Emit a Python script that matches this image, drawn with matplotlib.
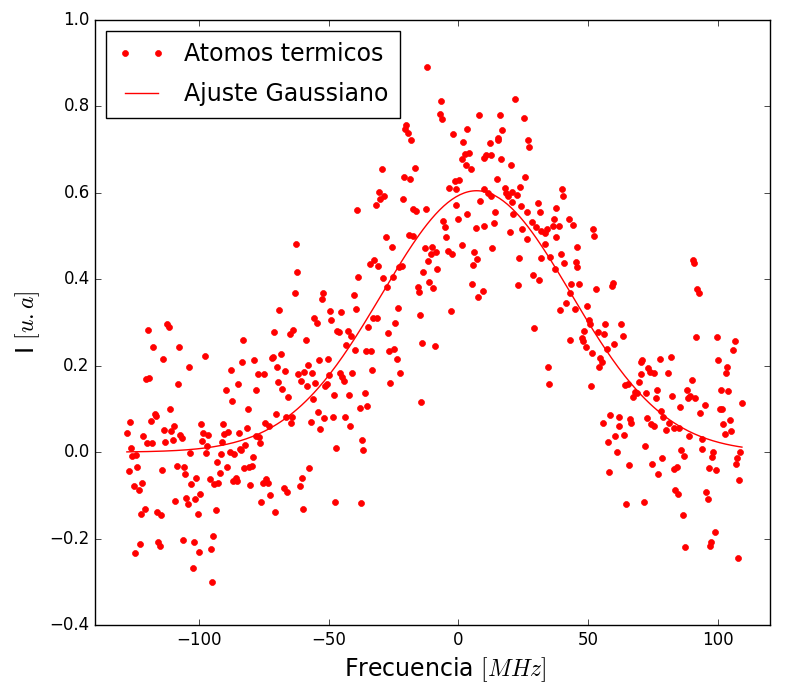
import numpy as np
import matplotlib
matplotlib.use("Agg")
import matplotlib.pyplot as plt

# frecuencia (MHz) e intensidad (u.a.)
freq = [
    -119.7, -112.4, -111.6, -117.8, -107.7, -113.9, -97.7, -103.9, -120.5, -119.3,
    -108.1, -83.0, -71.0, -83.4, -87.6, -78.8, -71.8, -71.4, -69.9, -77.2,
    -74.9, -84.9, -89.6, -78.0, -87.3, -81.1, -111.2, -117.0, -116.6, -118.5,
    -126.6, -127.8, -121.6, -113.5, -110.8, -109.7, -107.3, -106.6, -120.1, -118.1,
    -113.1, -110.0, -99.2, -98.5, -96.5, -98.8, -96.9, -90.7, -90.3, -88.8,
    -84.6, -81.5, -91.1, -82.2, -78.0, -76.8, -76.4, -74.5, -73.0, -70.3,
    -126.3, -84.2, -69.5,
    -125.9, -124.3, -127.0, -123.9, -103.5, -97.3, -91.5, -88.0, -86.5, -83.8,
    -79.2, -93.1, -89.2, -82.6, -80.7, -79.5, -108.5, -105.8, -105.4, -114.3,
    -91.9, -101.2, -103.1, -95.8, -94.2, -92.7, -86.9, -85.7, -85.3, -80.3,
    -75.3, -74.1, -73.4, -122.0, -125.1, -123.2, -72.6, -76.1, -70.7, -99.6,
    -101.5, -105.0, -104.2, -109.3, -120.8, -122.4, -116.2, -114.7, -100.4, -93.4,
    -122.8, -124.7, -115.8, -115.1, -106.2, -101.9, -100.0, -94.6, -95.4, -102.3,
    -95.0,
    -30.5, -30.1, -28.6, -31.7, -21.2, -39.0, -17.4, -16.2, -12.4, -62.5,
    -62.2, -27.8, -18.9, -17.4, -25.5, -12.7, -10.0, -10.4, -8.5, -11.6,
    -32.4, -34.0, -30.9, -22.8, -21.6, -38.6, -29.0, -25.1, -13.5, -8.1,
    -27.4, -11.2, -9.7, -15.4, -15.1, -62.9, -52.1, -52.5, -40.2, -69.1,
    -49.4, -45.2, -39.4, -23.2, -14.7, -55.6, -32.8, -31.3, -49.0,
    -54.4, -64.9, -63.7, -58.7, -46.7, -45.9, -42.5, -41.3, -43.2, -39.8,
    -34.7, -24.3, -27.0, -13.9, -8.9, -26.6, -24.7, -23.6, -22.4, -26.3,
    -35.5, -33.6, -33.2, -68.3, -66.8, -57.9, -53.7, -50.2, -61.8, -59.5,
    -56.4, -60.6, -58.3, -55.2, -51.4, -50.6, -49.8, -45.6, -44.8, -44.0,
    -40.9, -68.0, -65.6, -56.0, -47.9, -42.1, -35.9, -37.8, -35.1, -14.3,
    -66.4, -64.1, -64.5, -54.1, -56.8, -51.7, -48.3, -43.6, -41.7, -53.3,
    -37.1, -47.1, -36.7, -57.5, -60.2, -61.0, -67.2, -66.0, -59.8, -47.5,
    -37.5,
    -6.6, -6.9, -6.2, -20.1, -20.5, -19.3, -18.1, -1.9, 3.5, 1.9,
    2.7, 1.5, 3.1, -29.3, -16.6, -20.8, -18.5, -1.5, 0.4, -3.5,
    -0.8, 22.0, 8.1, 16.2, 25.1, 17.0, 15.4, 15.1, 12.0, 27.0,
    27.4, 4.2, 5.0, 10.8, 10.0, 12.7, 16.6, 20.1, 25.5, 14.7,
    10.0, 11.6, 12.4, 17.8, 18.5, 19.3, 20.8, 22.4, 23.6, 20.5,
    8.5, 30.5, 39.8, 40.5, -0.8, -12.0,
    24.3, 26.3, 31.3, 37.8, 14.3, 21.2, 3.5, 0.0, -5.8, -5.0,
    -4.6, 13.9, 9.7, 6.6, 19.7, 24.7, 28.2, 30.1, 32.0, 33.2,
    34.0, 36.3, 36.7, 38.6, 42.5, 44.0, 51.7, 52.1, 26.6, 37.5,
    33.2, 45.9, 1.2, 13.1, -4.2, -2.3, 6.2, 7.3, 5.8, 23.2,
    32.0, 35.5, 39.4, 40.9, 45.2, 45.6, 37.1, 28.6, 30.9, 22.8,
    5.4, 9.3, 7.7, 43.6, 46.3, 52.9, 42.9, 41.3, 49.4, 44.8,
    39.0, -2.7, 50.2, 50.6, 29.3, 48.3, 47.5, 43.2, 53.7, 47.9,
    49.0, 51.4, 54.1, 54.4, 34.7, 35.1, 51.0,
    90.3, 90.7, 59.5, 59.1, 91.9, 92.7, 56.4, 62.5, 56.0, 63.3,
    91.5, 99.6, 106.6, 105.8, 59.8, 57.1, 55.2, 70.3, 70.7, 77.6,
    81.9, 100.0, 103.5, 103.1, 73.0, 73.7, 75.3, 70.3, 80.7, 90.0,
    69.5, 64.1, 65.3, 68.0, 68.7, 67.2, 72.2, 76.4, 76.1, 82.2,
    88.0, 89.2, 88.4, 91.1, 101.2, 103.9, 109.3, 95.0, 85.3, 93.1,
    100.8, 101.5, 78.0, 78.8, 81.1, 83.0, 84.9, 79.9, 72.6, 74.1,
    75.3, 104.6, 101.9, 105.0, 102.7, 58.3, 61.8, 55.6, 66.0, 66.4,
    61.8, 60.2, 63.7, 57.5, 71.8, 88.8, 93.8, 93.8, 85.7, 86.9,
    98.1, 97.7, 108.5, 107.3, 61.0, 78.4, 65.6, 57.9, 74.5, 76.8,
    83.0, 84.2, 96.5, 99.2, 106.9, 108.1, 83.4, 84.6, 95.4, 96.1,
    64.5, 71.4, 86.5, 98.8, 97.3, 96.9, 87.3, 107.7,
]

inten = [
    0.282, 0.296, 0.289, 0.243, 0.243, 0.215, 0.222, 0.197, 0.169, 0.171,
    0.157, 0.259, 0.278, 0.208, 0.190, 0.213, 0.218, 0.220, 0.197, 0.181,
    0.181, 0.157, 0.144, 0.144, 0.118, 0.100, 0.100, 0.088, 0.083, 0.072,
    0.069, 0.044, 0.037, 0.051, 0.049, 0.060, 0.039, 0.032, 0.021, 0.021,
    0.023, 0.028, 0.065, 0.044, 0.039, 0.025, 0.014, 0.065, 0.042, 0.046,
    0.044, 0.056, 0.023, 0.016, 0.037, 0.035, 0.021, 0.067, 0.060, 0.088,
    0.009, 0.007, 0.162,
    -0.009, -0.007, -0.044, -0.035, -0.002, -0.002, -0.005, 0.000, -0.005, 0.005,
    -0.012, -0.023, -0.035, -0.037, -0.035, -0.032, -0.032, -0.035, -0.051, -0.042,
    -0.049, -0.060, -0.074, -0.063, -0.074, -0.072, -0.067, -0.060, -0.067, -0.076,
    -0.072, -0.063, -0.072, -0.072, -0.079, -0.088, -0.100, -0.116, -0.139, -0.097,
    -0.109, -0.106, -0.120, -0.113, -0.132, -0.144, -0.139, -0.146, -0.144, -0.134,
    -0.213, -0.234, -0.208, -0.218, -0.204, -0.208, -0.232, -0.194, -0.225, -0.269,
    -0.301,
    0.602, 0.586, 0.593, 0.572, 0.586, 0.560, 0.563, 0.558, 0.563, 0.482,
    0.417, 0.498, 0.502, 0.500, 0.475, 0.472, 0.475, 0.458, 0.463, 0.442,
    0.444, 0.435, 0.431, 0.428, 0.431, 0.405, 0.403, 0.405, 0.417, 0.424,
    0.382, 0.394, 0.380, 0.382, 0.370, 0.368, 0.368, 0.354, 0.363, 0.329,
    0.326, 0.324, 0.331, 0.333, 0.317, 0.310, 0.310, 0.310, 0.306,
    0.299, 0.273, 0.282, 0.259, 0.280, 0.278, 0.280, 0.269, 0.248, 0.236,
    0.289, 0.299, 0.275, 0.252, 0.245, 0.234, 0.238, 0.215, 0.183, 0.160,
    0.234, 0.234, 0.190, 0.227, 0.188, 0.201, 0.213, 0.215, 0.181, 0.185,
    0.183, 0.164, 0.153, 0.160, 0.153, 0.157, 0.178, 0.183, 0.174, 0.164,
    0.183, 0.146, 0.127, 0.123, 0.132, 0.132, 0.137, 0.102, 0.106, 0.116,
    0.081, 0.081, 0.067, 0.093, 0.069, 0.079, 0.081, 0.081, 0.060, 0.053,
    0.028, 0.009, 0.005, -0.037, -0.060, -0.079, -0.083, -0.093, -0.132, -0.116,
    -0.118,
    0.813, 0.782, 0.771, 0.757, 0.748, 0.738, 0.722, 0.736, 0.748, 0.718,
    0.690, 0.678, 0.664, 0.655, 0.657, 0.637, 0.632, 0.627, 0.630, 0.611,
    0.609, 0.817, 0.780, 0.780, 0.773, 0.745, 0.727, 0.722, 0.715, 0.722,
    0.706, 0.692, 0.655, 0.688, 0.681, 0.688, 0.678, 0.664, 0.637, 0.632,
    0.609, 0.600, 0.593, 0.611, 0.600, 0.593, 0.602, 0.595, 0.613, 0.579,
    0.581, 0.576, 0.609, 0.593, 0.572, 0.891,
    0.569, 0.556, 0.556, 0.565, 0.556, 0.551, 0.551, 0.539, 0.535, 0.521,
    0.498, 0.530, 0.523, 0.519, 0.509, 0.516, 0.532, 0.521, 0.512, 0.507,
    0.516, 0.523, 0.539, 0.523, 0.539, 0.525, 0.516, 0.500, 0.493, 0.498,
    0.482, 0.475, 0.479, 0.472, 0.465, 0.458, 0.463, 0.447, 0.433, 0.449,
    0.449, 0.451, 0.458, 0.438, 0.440, 0.428, 0.424, 0.410, 0.398, 0.387,
    0.389, 0.373, 0.359, 0.389, 0.389, 0.377, 0.368, 0.345, 0.338, 0.331,
    0.329, 0.326, 0.306, 0.296, 0.287, 0.280, 0.264, 0.259, 0.278, 0.257,
    0.243, 0.229, 0.197, 0.218, 0.197, 0.157, 0.153,
    0.444, 0.438, 0.391, 0.384, 0.377, 0.368, 0.296, 0.296, 0.273, 0.269,
    0.266, 0.266, 0.257, 0.236, 0.250, 0.238, 0.208, 0.208, 0.213, 0.215,
    0.220, 0.213, 0.197, 0.183, 0.194, 0.185, 0.183, 0.181, 0.183, 0.167,
    0.162, 0.155, 0.157, 0.139, 0.137, 0.127, 0.137, 0.144, 0.125, 0.130,
    0.144, 0.130, 0.125, 0.125, 0.144, 0.141, 0.113, 0.109, 0.104, 0.090,
    0.100, 0.100, 0.095, 0.081, 0.067, 0.056, 0.056, 0.051, 0.079, 0.065,
    0.060, 0.074, 0.065, 0.049, 0.042, 0.086, 0.081, 0.067, 0.076, 0.067,
    0.060, 0.037, 0.039, 0.023, 0.014, 0.037, 0.030, 0.007, 0.005, -0.009,
    0.000, -0.012, 0.000, -0.014, 0.000, -0.014, -0.030, -0.046, -0.028, -0.051,
    -0.039, -0.035, -0.037, -0.042, -0.028, -0.065, -0.088, -0.097, -0.093, -0.109,
    -0.120, -0.116, -0.146, -0.185, -0.208, -0.218, -0.220, -0.245,
]

# parametros del ajuste gaussiano
amp = 0.605
centro = 7.0
sigma = 36.4

plt.style.use('classic')
plt.rcParams['mathtext.fontset'] = 'cm'

freq = np.array(freq)
inten = np.array(inten)

fig = plt.figure(figsize=(7.87, 6.91), dpi=100, facecolor='white')
ax = fig.add_axes([0.121, 0.0955, 0.857, 0.8755])

ax.plot(freq, inten, 'o', color='r', markeredgecolor='r', markersize=4.3,
        label='Atomos termicos')

xfit = np.linspace(freq.min(), freq.max(), 300)
yfit = amp * np.exp(-(xfit - centro) ** 2 / (2 * sigma ** 2))
ax.plot(xfit, yfit, 'r-', linewidth=1.0, label='Ajuste Gaussiano')

ax.set_xlim(-140, 120)
ax.set_ylim(-0.4, 1.0)
ax.set_xticks([-100, -50, 0, 50, 100])
ax.tick_params(labelsize=12)

ax.set_xlabel(r'Frecuencia $[MHz]$', fontsize=17)
ax.xaxis.label.set_x(0.519)
ax.set_ylabel(r'I $[u.a]$', fontsize=17)

ax.legend(loc='upper left', fontsize=17, numpoints=2, borderpad=0.5,
          labelspacing=0.65, handlelength=2.0, borderaxespad=0.45)

fig.savefig('out.png', dpi=100, facecolor='white')
